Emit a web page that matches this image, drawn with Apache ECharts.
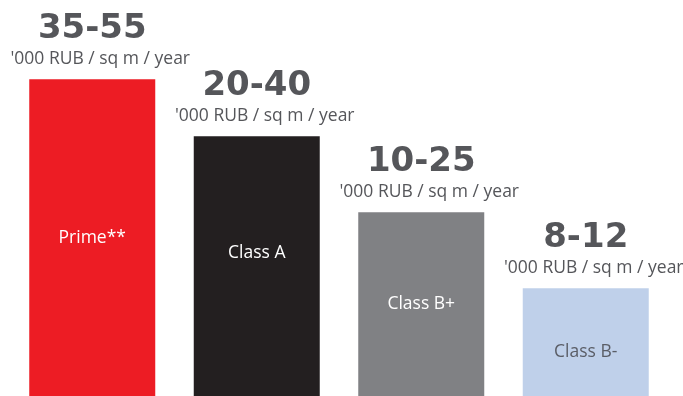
<!DOCTYPE html>
<html>
<head>
<meta charset="utf-8">
<script src="https://cdn.jsdelivr.net/npm/echarts@6/dist/echarts.min.js"></script>
<style>
  html, body { margin: 0; padding: 0; background: #ffffff; }
  #chart { width: 683px; height: 396px; }
</style>
</head>
<body>
<div id="chart"></div>
<script>
// Office classes and their asking rent ranges
const categories = ['Prime**', 'Class A', 'Class B+', 'Class B-'];
const rentRanges = ['35-55', '20-40', '10-25', '8-12'];
const unitLabel = "'000 RUB / sq m / year";
// Relative bar height (index, Prime = 100)
const barIndex = [100, 82, 58, 34];
const barColors = ['#ED1C24', '#231F20', '#808184', '#BFD0EA'];
const innerLabelColors = ['#ffffff', '#ffffff', '#ffffff', '#5a5d66'];

const chart = echarts.init(document.getElementById('chart'), null, { renderer: 'canvas' });

const topSeriesData = barIndex.map((v, i) => ({
  value: v,
  itemStyle: { color: barColors[i] },
  label: {
    formatter: '{num|' + rentRanges[i] + '}\n{unit|' + unitLabel + '}'
  }
}));

const innerOffsets = [[0, 0], [0, -13], [0, 0], [0, 10]];
const innerSeriesData = barIndex.map((v, i) => ({
  value: v,
  label: { color: innerLabelColors[i], offset: innerOffsets[i] }
}));

chart.setOption({
  animation: false,
  grid: { left: 10, right: 15, top: 0, bottom: 0 },
  xAxis: {
    type: 'category',
    data: categories,
    axisLine: { show: false },
    axisTick: { show: false },
    axisLabel: { show: false }
  },
  yAxis: {
    type: 'value',
    min: 0,
    max: 125,
    show: false,
    splitLine: { show: false }
  },
  series: [
    {
      type: 'bar',
      barWidth: 126,
      data: topSeriesData,
      label: {
        show: true,
        position: 'top',
        distance: 8,
        align: 'center',
        rich: {
          num: {
            fontFamily: 'DejaVu Sans',
            fontWeight: 'bold',
            fontSize: 34,
            color: '#55565a',
            lineHeight: 36,
            align: 'center'
          },
          unit: {
            fontFamily: 'Open Sans',
            fontSize: 17.5,
            color: '#55565a',
            lineHeight: 24,
            align: 'center',
            padding: [0, 0, 0, 16]
          }
        }
      }
    },
    {
      type: 'bar',
      barWidth: 126,
      barGap: '-100%',
      data: innerSeriesData,
      itemStyle: { color: 'rgba(0,0,0,0)' },
      label: {
        show: true,
        position: 'inside',
        formatter: (p) => categories[p.dataIndex],
        fontFamily: 'Open Sans',
        fontSize: 17.5
      },
      z: 3
    }
  ]
});
</script>
</body>
</html>
